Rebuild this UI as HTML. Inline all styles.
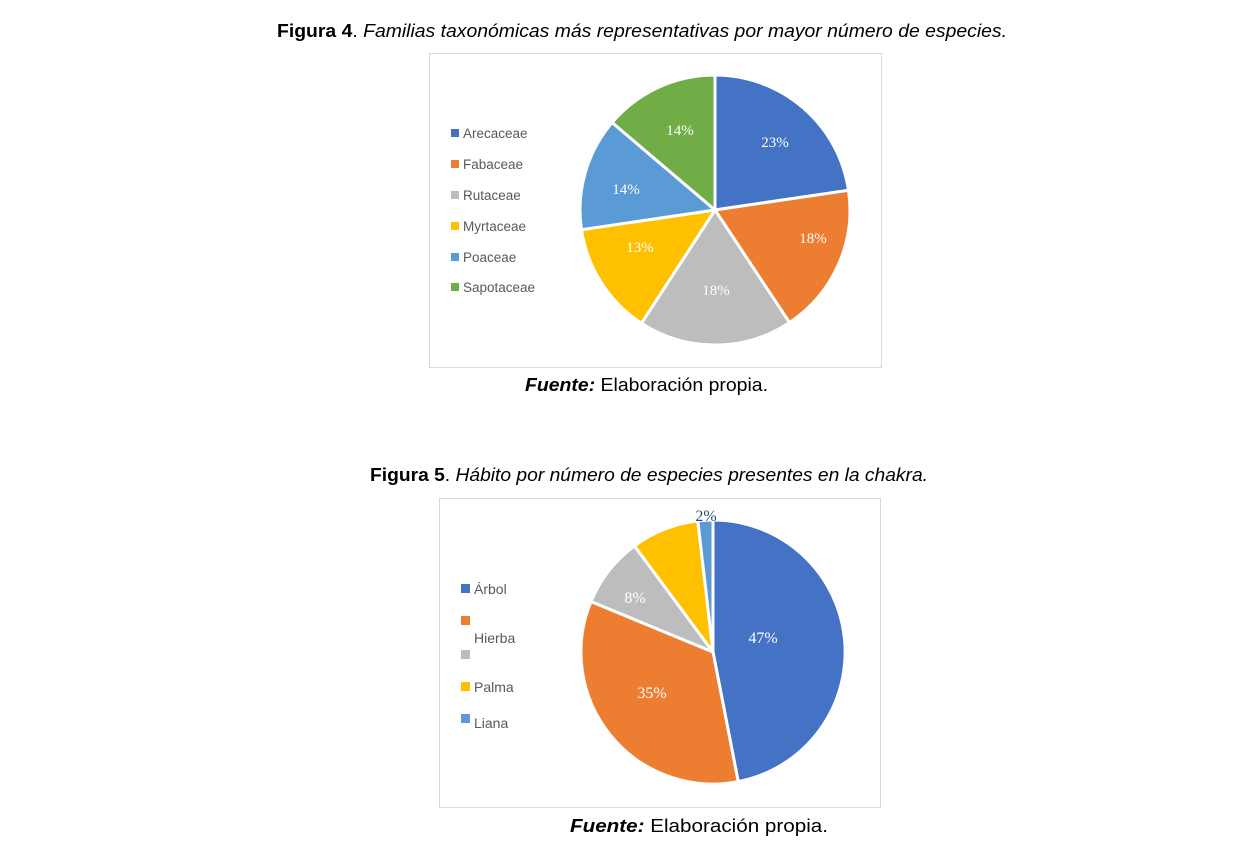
<!DOCTYPE html>
<html><head><meta charset="utf-8"><style>
html,body{margin:0;padding:0;background:#fff;}
svg{display:block;}
</style></head><body>
<svg width="1240" height="853" viewBox="0 0 1240 853" xmlns="http://www.w3.org/2000/svg">
<rect width="1240" height="853" fill="#fff"/>
<text x="277" y="37" textLength="730" lengthAdjust="spacingAndGlyphs" font-family="Liberation Sans, sans-serif" font-size="18" fill="#000"><tspan font-weight="bold">Figura 4</tspan>. <tspan font-style="italic">Familias taxonómicas más representativas por mayor número de especies.</tspan></text>
<rect x="429.5" y="53.5" width="452" height="314" fill="#fff" stroke="#d9d9d9"/>
<g stroke="#fff" stroke-width="3" stroke-linejoin="round">
<path d="M715,210 L715,75 A135,135 0 0 1 848.5,190.3 Z" fill="#4472c4"/>
<path d="M715,210 L848.5,190.3 A135,135 0 0 1 789.5,322.6 Z" fill="#ed7d31"/>
<path d="M715,210 L789.5,322.6 A135,135 0 0 1 641.5,323.2 Z" fill="#bdbdbd"/>
<path d="M715,210 L641.5,323.2 A135,135 0 0 1 581.5,229.7 Z" fill="#ffc000"/>
<path d="M715,210 L581.5,229.7 A135,135 0 0 1 612.1,122.5 Z" fill="#5b9bd5"/>
<path d="M715,210 L612.1,122.5 A135,135 0 0 1 715,75 Z" fill="#70ad47"/>
</g>
<g font-family="Liberation Serif, serif" font-size="15" fill="#fff" text-anchor="middle">
<text x="775" y="147">23%</text>
<text x="813" y="243">18%</text>
<text x="716" y="295">18%</text>
<text x="640" y="252">13%</text>
<text x="626" y="194">14%</text>
<text x="680" y="135">14%</text>
</g>
<g font-family="Liberation Sans, sans-serif" font-size="13.5" fill="#595959">
<rect x="451" y="129" width="8" height="8" fill="#4472c4"/><text x="463" y="138">Arecaceae</text>
<rect x="451" y="160" width="8" height="8" fill="#ed7d31"/><text x="463" y="169">Fabaceae</text>
<rect x="451" y="191" width="8" height="8" fill="#bdbdbd"/><text x="463" y="200">Rutaceae</text>
<rect x="451" y="222" width="8" height="8" fill="#ffc000"/><text x="463" y="231">Myrtaceae</text>
<rect x="451" y="253" width="8" height="8" fill="#5b9bd5"/><text x="463" y="262">Poaceae</text>
<rect x="451" y="283" width="8" height="8" fill="#70ad47"/><text x="463" y="292">Sapotaceae</text>
</g>
<text x="525" y="391" textLength="243" lengthAdjust="spacingAndGlyphs" font-family="Liberation Sans, sans-serif" font-size="18" fill="#000"><tspan font-weight="bold" font-style="italic">Fuente:</tspan> Elaboración propia.</text>

<text x="370" y="481" textLength="558" lengthAdjust="spacingAndGlyphs" font-family="Liberation Sans, sans-serif" font-size="18" fill="#000"><tspan font-weight="bold">Figura 5</tspan>. <tspan font-style="italic">Hábito por número de especies presentes en la chakra.</tspan></text>
<rect x="439.5" y="498.5" width="441" height="309" fill="#fff" stroke="#d9d9d9"/>
<g stroke="#fff" stroke-width="3" stroke-linejoin="round">
<path d="M713,652 L713,520 A132,132 0 0 1 738.2,781.6 Z" fill="#4472c4"/>
<path d="M713,652 L738.2,781.6 A132,132 0 0 1 591,601.5 Z" fill="#ed7d31"/>
<path d="M713,652 L591,601.5 A132,132 0 0 1 634.5,545.9 Z" fill="#bdbdbd"/>
<path d="M713,652 L634.5,545.9 A132,132 0 0 1 697.8,520.9 Z" fill="#ffc000"/>
<path d="M713,652 L697.8,520.9 A132,132 0 0 1 713,520 Z" fill="#5b9bd5"/>
</g>
<g font-family="Liberation Serif, serif" font-size="16" text-anchor="middle">
<text x="763" y="643" fill="#fff">47%</text>
<text x="652" y="698" fill="#fff">35%</text>
<text x="635" y="603" fill="#fff">8%</text>
<text x="706" y="521" fill="#1f4e79">2%</text>
</g>
<g font-family="Liberation Sans, sans-serif" font-size="14" fill="#595959">
<rect x="461" y="584" width="9" height="9" fill="#4472c4"/><text x="474" y="594">Árbol</text>
<rect x="461" y="616" width="9" height="9" fill="#ed7d31"/><text x="474" y="643">Hierba</text>
<rect x="461" y="650" width="9" height="9" fill="#bdbdbd"/>
<rect x="461" y="682" width="9" height="9" fill="#ffc000"/><text x="474" y="692">Palma</text>
<rect x="461" y="714" width="9" height="9" fill="#5b9bd5"/><text x="474" y="728">Liana</text>
</g>
<text x="570" y="832" textLength="258" lengthAdjust="spacingAndGlyphs" font-family="Liberation Sans, sans-serif" font-size="18" fill="#000"><tspan font-weight="bold" font-style="italic">Fuente:</tspan> Elaboración propia.</text>
</svg>
</body></html>
